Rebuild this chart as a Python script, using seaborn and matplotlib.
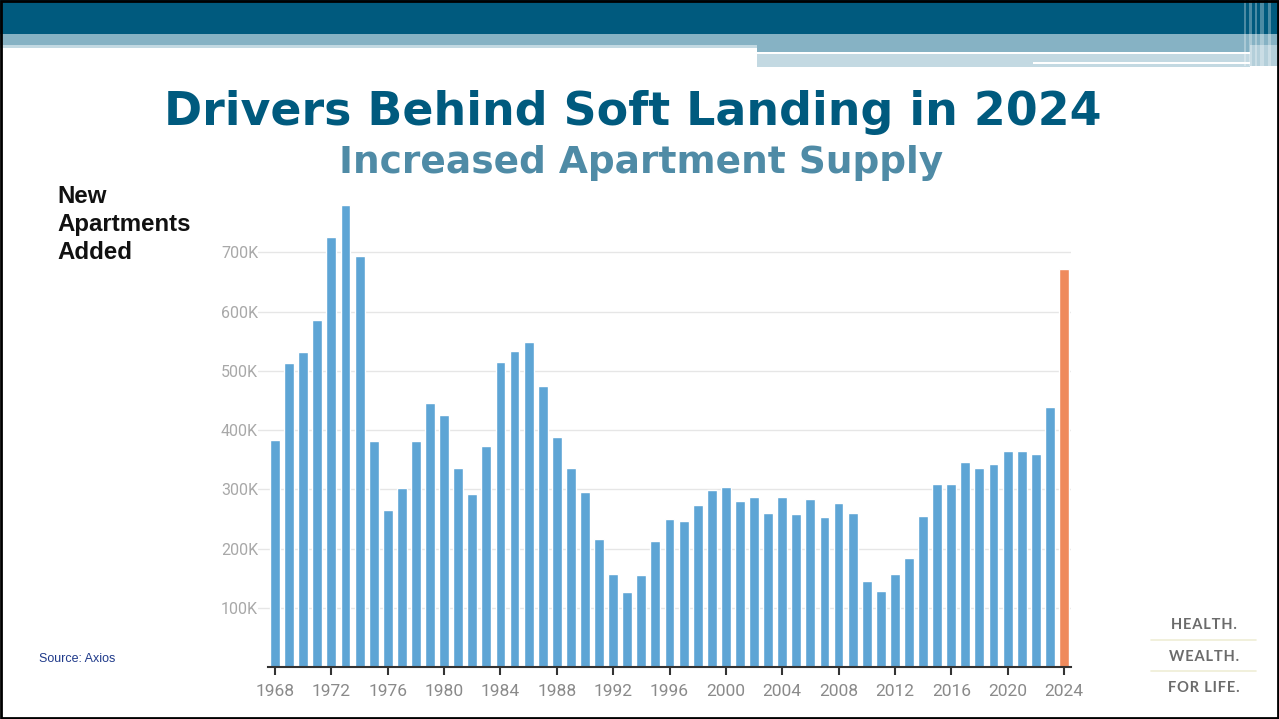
# plot.py
# Bar chart of new apartments added per year (1968-2024), slide style.

import pandas as pd
import matplotlib
matplotlib.use("Agg")
import matplotlib.pyplot as plt
from matplotlib.patches import Rectangle
from matplotlib.ticker import FuncFormatter
import seaborn as sns

# data, in thousands of units
years = list(range(1968, 2025))
units_k = [383, 513, 531, 586, 725, 780, 693, 382, 265, 303,
           382, 445, 426, 336, 293, 374, 515, 534, 549, 474,
           389, 337, 296, 216, 157, 127, 155, 213, 251, 247,
           274, 299, 304, 281, 288, 260, 287, 258, 284, 253,
           277, 260, 146, 129, 157, 185, 255, 310, 310, 347,
           337, 343, 364, 364, 359, 439, 672]
highlight = ["past"] * 56 + ["2024"]
yticks_k = [100, 200, 300, 400, 500, 600, 700]
xtick_years = years[::4]

W, H = 1279, 719
BLUE = "#5ea5d5"
ORANGE = "#ef8a5c"
DARK = "#005a7e"

sns.set_style("white")
plt.rcParams["font.family"] = ["DejaVu Sans"]

df = pd.DataFrame({"year": years, "units": [v * 1000 for v in units_k], "group": highlight})

fig = plt.figure(figsize=(W / 100, H / 100), dpi=100)


def rect(x0, y0, x1, y1, color, **kw):
    # pixel box (top-left origin) -> figure coords
    fig.patches.append(Rectangle((x0 / W, 1 - y1 / H), (x1 - x0) / W, (y1 - y0) / H,
                                 transform=fig.transFigure, facecolor=color,
                                 edgecolor="none", **kw))


# slide header bands
rect(0, 0, W, 34, DARK)
rect(0, 34, W, 45, "#86b2c4")
rect(0, 45, 757, 48, "#c3d9e2")
rect(757, 45, 1250, 52, "#86b2c4")
rect(757, 52, 1187, 54, "white")
rect(757, 54, 1250, 67, "#c3d9e2")
rect(1033, 62, 1250, 64, "white")
rect(1250, 45, W, 66, "#b4cfda")
# faint vertical stripes at the right end of the header
for x0, w in [(1244, 2), (1249, 3), (1255, 2), (1260, 4), (1268, 3)]:
    rect(x0, 0, x0 + w, 66, "white", alpha=0.3)

# chart
ax = fig.add_axes([258 / W, 1 - 667.4 / H, (1071 - 258) / W, (667.4 - 200) / H])
sns.barplot(data=df, x="year", y="units", hue="group", palette={"past": BLUE, "2024": ORANGE},
            dodge=False, width=0.7, saturation=1, legend=False, ax=ax)

ax.set_xlim(-1.21, 56.5)
ax.set_ylim(0, 788000)
ax.set_yticks([v * 1000 for v in yticks_k])
ax.yaxis.set_major_formatter(FuncFormatter(lambda v, p: f"{int(v / 1000)}K"))
ax.set_xticks([years.index(y) for y in xtick_years])
ax.set_xticklabels([str(y) for y in xtick_years])
ax.grid(axis="y", color="#e6e6e6", lw=1)
ax.set_axisbelow(True)
for s in ["top", "right", "left"]:
    ax.spines[s].set_visible(False)
ax.spines["bottom"].set_color("#333333")
ax.spines["bottom"].set_linewidth(1.5)
ax.spines["bottom"].set_bounds(-0.5, 56.5)
ax.tick_params(axis="x", length=6, width=1.5, color="#333333", labelcolor="#8a8a8a",
               labelsize=12.5, pad=6, bottom=True)
ax.tick_params(axis="y", length=0, labelcolor="#a8a8a8", labelsize=11.5, pad=0)
for lab in ax.get_xticklabels() + ax.get_yticklabels():
    lab.set_family(["Roboto", "DejaVu Sans"])
ax.set_xlabel("")
ax.set_ylabel("")

# titles and notes
fig.text(633 / W, 1 - 125 / H, "Drivers Behind Soft Landing in 2024", ha="center", va="baseline",
         fontsize=33, fontweight="bold", color=DARK)
fig.text(641 / W, 1 - 173 / H, "Increased Apartment Supply", ha="center", va="baseline",
         fontsize=27, fontweight="bold", color="#4f8ba6")
fig.text(57 / W, 1 - 185 / H, "New\nApartments\nAdded", ha="left", va="top", fontsize=17.3,
         fontweight="bold", color="#111111", family=["Liberation Sans", "DejaVu Sans"],
         linespacing=1.27, multialignment="left")
fig.text(39 / W, 1 - 662 / H, "Source: Axios", ha="left", va="baseline", fontsize=9,
         color="#1f3a8a", family=["Liberation Sans", "DejaVu Sans"])

# logo block
for word, yc in [("HEALTH.", 625), ("WEALTH.", 657), ("FOR LIFE.", 688)]:
    fig.text(1204 / W, 1 - yc / H, "\u200a".join(word), ha="center", va="center", fontsize=10.5,
             fontweight="bold", color="#6b6b6b", family=["Lato", "DejaVu Sans"])
for yl in [639.5, 671]:
    fig.add_artist(plt.Line2D([1151 / W, 1256 / W], [1 - yl / H] * 2, color="#efedd6", lw=1.2))

# slide frame
fig.patches.append(Rectangle((0.001, 0.001), 0.998, 0.997, transform=fig.transFigure,
                             fill=False, edgecolor="black", lw=2))

fig.savefig("out.png", dpi=100)
